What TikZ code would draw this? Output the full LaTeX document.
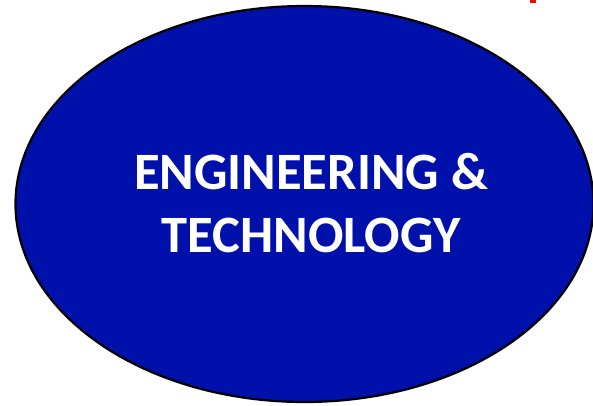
\documentclass[tikz,border=0pt]{standalone}
\usepackage{fontspec}
\setmainfont{Carlito}
\usetikzlibrary{shapes.geometric}
\definecolor{fieldblue}{RGB}{0,16,170}

\begin{document}
\begin{tikzpicture}[x=1pt,y=-1pt]
	\useasboundingbox (0,0) rectangle (593,405);
	\node[ellipse, draw=black, line width=2.2pt, fill=fieldblue, minimum width=578pt, minimum height=396pt, inner sep=0pt] (field) at (304.5,204) {};
	\node[align=center, text=white, font=\bfseries\fontsize{52.5}{63}\selectfont] (title) at (311,203) {ENGINEERING \&\\TECHNOLOGY};
	
	\fill[red] (530,0) rectangle (536,2.5);
\end{tikzpicture}
\end{document}
